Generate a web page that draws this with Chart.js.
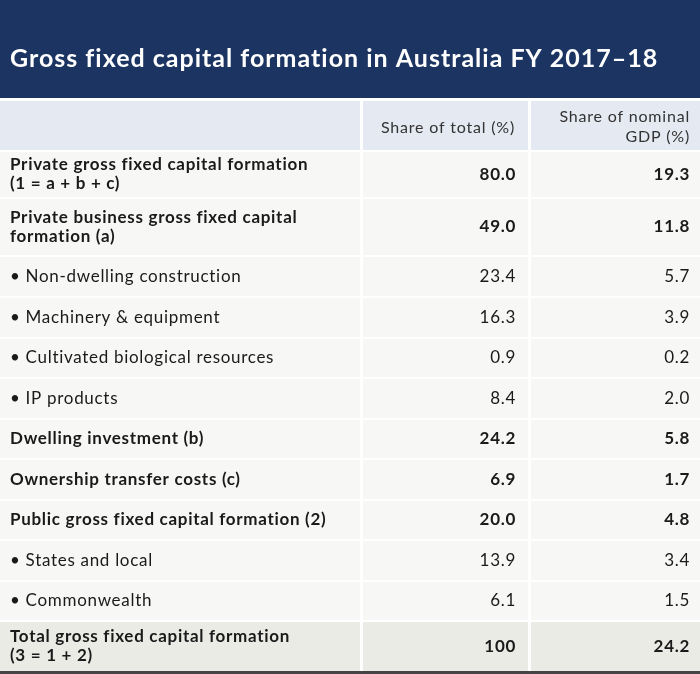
<!DOCTYPE html>
<html><head><meta charset="utf-8">
<script src="https://cdn.jsdelivr.net/npm/chart.js@4"></script>
<style>html,body{margin:0;padding:0;background:#fff}#w{width:700px;height:674px;position:relative}</style>
</head><body><div id="w"><canvas id="c"></canvas></div>
<script>
const title = "Gross fixed capital formation in Australia FY 2017\u201318";
const colHeaders = [["Share of total (%)"], ["Share of nominal", "GDP (%)"]];
const rowLabels = [
  ["Private gross fixed capital formation", "(1 = a + b + c)"],
  ["Private business gross fixed capital", "formation (a)"],
  ["\u2022 Non-dwelling construction"],
  ["\u2022 Machinery & equipment"],
  ["\u2022 Cultivated biological resources"],
  ["\u2022 IP products"],
  ["Dwelling investment (b)"],
  ["Ownership transfer costs (c)"],
  ["Public gross fixed capital formation (2)"],
  ["\u2022 States and local"],
  ["\u2022 Commonwealth"],
  ["Total gross fixed capital formation", "(3 = 1 + 2)"]
];
const shareTotal = ["80.0","49.0","23.4","16.3","0.9","8.4","24.2","6.9","20.0","13.9","6.1","100"];
const shareGDP = ["19.3","11.8","5.7","3.9","0.2","2.0","5.8","1.7","4.8","3.4","1.5","24.2"];
const boldRows = [true,true,false,false,false,false,true,true,true,false,false,true];
// layout (pixel units on the scales)
const rowTops = [152,199,257,298,339,379,420,460,501,541,582,622];
const rowBots = [197,255,296,337,377,418,458,499,539,580,620,671];
const cols = [[0,360],[363,528],[531,700]];

const tablePlugin = {
  id:'table',
  afterDraw(chart){
    const ctx = chart.ctx, xs = chart.scales.x, ys = chart.scales.y;
    const X = v => xs.getPixelForValue(v), Y = v => ys.getPixelForValue(v);
    ctx.save();
    ctx.fillStyle = '#1c3461'; ctx.fillRect(X(0),Y(0),X(700)-X(0),Y(98)-Y(0));
    ctx.fillStyle = '#fff'; ctx.font = 'bold 25px Lato'; ctx.letterSpacing='1px'; ctx.textBaseline='middle'; ctx.textAlign='left';
    ctx.fillText(title, X(10), Y(59));
    // header row
    ctx.fillStyle = '#e5e9f2';
    cols.forEach(c=>ctx.fillRect(X(c[0]),Y(101),X(c[1])-X(c[0]),Y(150)-Y(101)));
    ctx.fillStyle='#333'; ctx.font='16px Lato'; ctx.letterSpacing='0.8px'; ctx.textAlign='right';
    ctx.fillText(colHeaders[0][0], X(515), Y(128));
    ctx.fillText(colHeaders[1][0], X(690), Y(117));
    ctx.fillText(colHeaders[1][1], X(690), Y(137));
    rowLabels.forEach((lab,i)=>{
      const t=rowTops[i], b=rowBots[i], last=i===rowLabels.length-1;
      ctx.fillStyle = last ? '#ebebe6' : '#f7f7f5';
      cols.forEach(c=>ctx.fillRect(X(c[0]),Y(t),X(c[1])-X(c[0]),Y(b)-Y(t)));
      const mid=(t+b)/2;
      ctx.fillStyle = '#1a1a1a';
      ctx.font = (boldRows[i]?'bold ':'')+'17px Lato';
      ctx.letterSpacing = '0.7px';
      ctx.textAlign='left';
      if(lab.length===2){ctx.fillText(lab[0],X(10),Y(mid-9.5));ctx.fillText(lab[1],X(10),Y(mid+9.5));}
      else ctx.fillText(lab[0],X(10),Y(mid));
      ctx.textAlign='right';
      ctx.fillText(shareTotal[i],X(516),Y(mid));
      ctx.fillText(shareGDP[i],X(690),Y(mid));
    });
    ctx.fillStyle='#444'; ctx.fillRect(X(0),Y(671),X(700)-X(0),Y(674)-Y(671));
    ctx.restore();
  }
};
new Chart(document.getElementById('c'),{
  type:'scatter',
  data:{datasets:[{data:[],pointRadius:0}]},
  options:{responsive:true,maintainAspectRatio:false,animation:false,
    layout:{padding:0},
    plugins:{legend:{display:false},tooltip:{enabled:false}},
    scales:{x:{type:'linear',min:0,max:700,display:false},
            y:{type:'linear',min:0,max:674,reverse:true,display:false}}},
  plugins:[tablePlugin]
});
</script></body></html>
